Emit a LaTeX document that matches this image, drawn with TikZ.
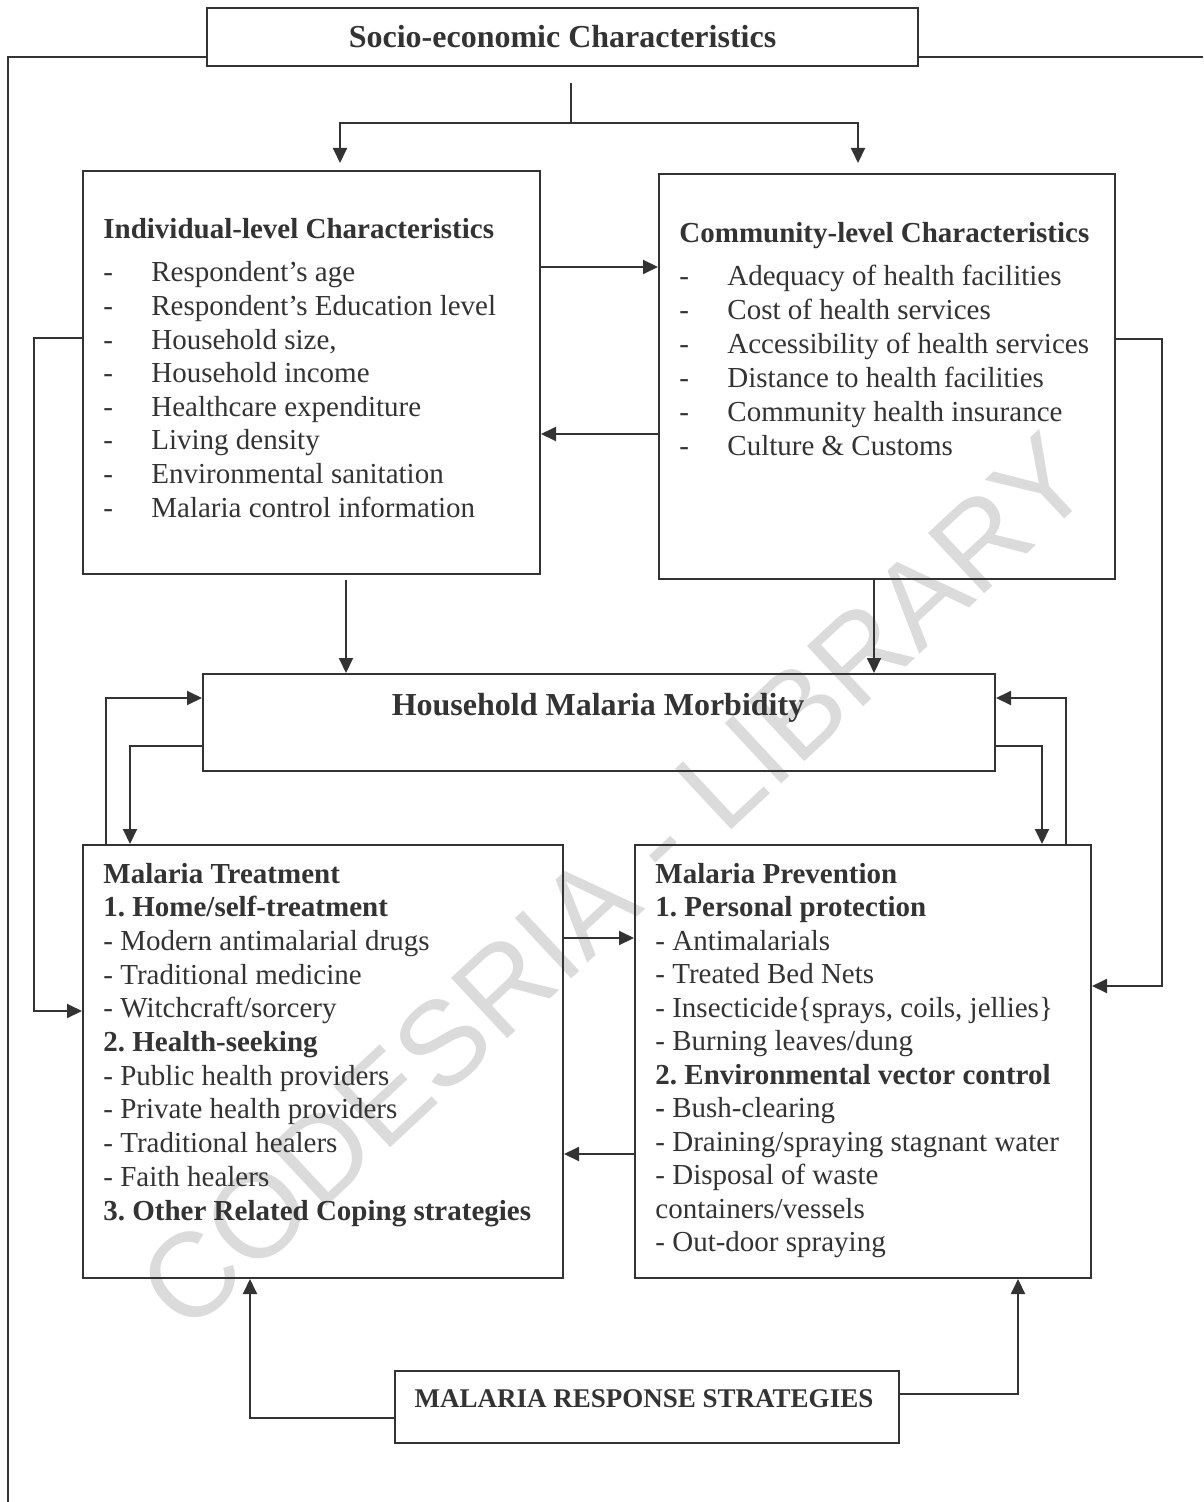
\documentclass[tikz,border=0pt]{standalone}
\usepackage{fontspec}
\setmainfont{Liberation Serif}
\newfontfamily\wmfont{Liberation Sans}
\usetikzlibrary{arrows.meta}
\definecolor{ink}{gray}{0.2}
\definecolor{wmgray}{gray}{0.86}
\tikzset{%
	box/.style={draw=ink, line width=1pt, anchor=north west, inner sep=0pt},%
	ln/.style={draw=ink, line width=1pt},%
	arr/.style={ln, -{Triangle[length=7.5pt,width=7pt]}},%
	txt/.style={text=ink, anchor=base west, inner sep=0pt, font=\fontsize{14.5}{17}\selectfont},%
	btxt/.style={txt, font=\fontsize{14.5}{17}\selectfont\bfseries},%
}

\begin{document}
\frenchspacing
\begin{tikzpicture}[x=0.5pt,y=-0.5pt] % tikzpicture環境開始
\useasboundingbox (0,0) rectangle (1203,1502);
% 透かし
\node[rotate=43, text=wmgray, inner sep=0pt, font=\wmfont\fontsize{60}{66}\selectfont] (wm) at (615,882) {CODESRIA - LIBRARY};
% 枠
\node[box, minimum width=355.5pt, minimum height=29pt, font=\fontsize{16}{19}\selectfont\bfseries, text=ink] (socio) at (206,7) {Socio-economic Characteristics};
\node[box, minimum width=228.5pt, minimum height=201.5pt] (ind) at (82,170) {};
\node[box, minimum width=228pt, minimum height=202.5pt] (com) at (658,173) {};
\node[box, minimum width=396pt, minimum height=48.5pt] (hmm) at (202,673) {};
\node[box, minimum width=240pt, minimum height=216.5pt] (treat) at (82,844) {};
\node[box, minimum width=228pt, minimum height=216.5pt] (prev) at (634,844) {};
\node[box, minimum width=252pt, minimum height=36pt] (resp) at (394,1370) {};
\node[txt, anchor=base, font=\fontsize{16}{19}\selectfont\bfseries] (hmm-t) at (598,715) {Household Malaria Morbidity};
\node[txt, anchor=base, font=\fontsize{13.5}{16}\selectfont\bfseries] (resp-t) at (644,1407) {MALARIA RESPONSE STRATEGIES};
% 本文
\node[btxt] (ind-h) at (103,239) {Individual-level Characteristics};
\foreach \t [count=\i] in%
{%
	Respondent’s age, Respondent’s Education level, {Household size,}, Household income,%
	Healthcare expenditure, Living density, Environmental sanitation, Malaria control information%
}{%
	\node[txt] (ind-d\i) at (103,248.4+\i*33.6) {-};
	\node[txt] (ind-\i) at (151,248.4+\i*33.6) {\t};
}%
\node[btxt] (com-h) at (679,243) {Community-level Characteristics};
\foreach \t [count=\i] in%
{%
	Adequacy of health facilities, Cost of health services, Accessibility of health services,%
	Distance to health facilities, Community health insurance, Culture \& Customs%
}{%
	\node[txt] (com-d\i) at (679,252.2+\i*33.8) {-};
	\node[txt] (com-\i) at (727,252.2+\i*33.8) {\t};
}%
\foreach \s/\t [count=\i] in%
{%
	btxt/Malaria Treatment, btxt/{1. Home/self-treatment}, txt/- Modern antimalarial drugs,%
	txt/- Traditional medicine, txt/{- Witchcraft/sorcery}, btxt/2. Health-seeking,%
	txt/- Public health providers, txt/- Private health providers, txt/- Traditional healers,%
	txt/- Faith healers, btxt/3. Other Related Coping strategies%
}{%
	\node[\s] (treat-\i) at (103,849.3+\i*33.7) {\t};
}%
\foreach \s/\t [count=\i] in%
{%
	btxt/Malaria Prevention, btxt/1. Personal protection, txt/- Antimalarials,%
	txt/- Treated Bed Nets, txt/{- Insecticide\{sprays, coils, jellies\}}, txt/{- Burning leaves/dung},%
	btxt/2. Environmental vector control, txt/{\textbf{-} Bush-clearing}, txt/{- Draining/spraying stagnant water},%
	txt/- Disposal of waste, txt/{containers/vessels}, txt/- Out-door spraying%
}{%
	\node[\s] (prev-\i) at (655,849.5+\i*33.5) {\t};
}%
% 矢印
\coordinate (fork) at (571,123);
\coordinate (frameBL) at (8,1502);
\coordinate (frameR) at (1203,57);
\draw[ln] (socio.west |- 0,57) -| (frameBL);
\draw[ln] (socio.east |- 0,57) -- (frameR);
\draw[ln] (fork) -- ++(0,-40);
\draw[arr, shorten >=3.5pt] (fork) -| (ind.north -| 340,0);
\draw[arr, shorten >=5pt] (fork) -| (com.north -| 858,0);
\draw[arr] (ind.east |- 0,267) -- (com.west |- 0,267);
\draw[arr] (com.west |- 0,434) -- (ind.east |- 0,434);
\draw[arr] (ind.west |- 0,338) -| (34,1011) -- (treat.west |- 0,1011);
\draw[arr] (com.east |- 0,339) -| (1162,986) -- (prev.east |- 0,986);
\draw[arr, shorten <=2.5pt] (ind.south -| 346,0) -- (hmm.north -| 346,0);
\draw[arr] (com.south -| 874,0) -- (hmm.north -| 874,0);
\draw[arr] (treat.north -| 106,0) |- (hmm.west |- 0,698);
\draw[arr] (hmm.west |- 0,746) -| (treat.north -| 130,0);
\draw[arr] (hmm.east |- 0,746) -| (prev.north -| 1042,0);
\draw[arr] (prev.north -| 1066,0) |- (hmm.east |- 0,698);
\draw[arr] (treat.east |- 0,938) -- (prev.west |- 0,938);
\draw[arr] (prev.west |- 0,1154) -- (treat.east |- 0,1154);
\draw[arr] (resp.west |- 0,1418) -| (treat.south -| 250,0);
\draw[arr] (resp.east |- 0,1394) -| (prev.south -| 1018,0);
\end{tikzpicture}
\end{document}
